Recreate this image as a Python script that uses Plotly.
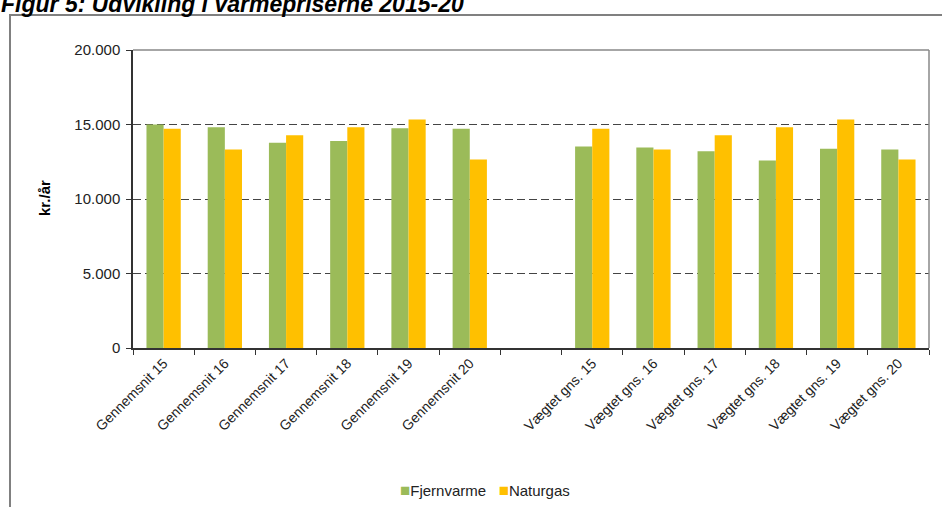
import plotly.graph_objects as go

categories = ["Gennemsnit 15", "Gennemsnit 16", "Gennemsnit 17", "Gennemsnit 18",
              "Gennemsnit 19", "Gennemsnit 20", " ",
              "Vægtet gns. 15", "Vægtet gns. 16", "Vægtet gns. 17", "Vægtet gns. 18",
              "Vægtet gns. 19", "Vægtet gns. 20"]
fjernvarme = [15000, 14820, 13770, 13900, 14750, 14710, None,
              13520, 13450, 13200, 12580, 13380, 13320]
naturgas = [14710, 13320, 14280, 14820, 15330, 12650, None,
            14710, 13320, 14280, 14820, 15330, 12650]
y_ticks = [0, 5000, 10000, 15000, 20000]
y_tick_labels = ["0", "5.000", "10.000", "15.000", "20.000"]
series_names = ["Fjernvarme", "Naturgas"]
series_colors = ["#9BBB59", "#FFC000"]

W, H = 942, 507
L, R, T, B = 133, 929, 50, 348
pw, ph = R - L, B - T

def px(x):
    return (x - L) / pw

def py(y):
    return (B - y) / ph

FONT = "Liberation Sans, Arial, sans-serif"

fig = go.Figure()
for name, vals, col in zip(series_names, [fjernvarme, naturgas], series_colors):
    fig.add_trace(go.Bar(x=categories, y=vals, name=name,
                         marker=dict(color=col, line=dict(width=0))))

fig.update_layout(
    width=W, height=H,
    margin=dict(l=L, r=W - R, t=T, b=H - B, pad=0, autoexpand=False),
    paper_bgcolor="white", plot_bgcolor="white",
    barmode="group", bargap=0.44, bargroupgap=0,
    font=dict(family=FONT, color="#222"),
    showlegend=False,
)
fig.update_xaxes(
    type="category", tickangle=-45, tickfont=dict(size=14, color="#222"),
    showline=True, linecolor="#333", linewidth=1.5,
    ticks="outside", tickson="boundaries", ticklen=5, tickcolor="#333",
    showgrid=False, fixedrange=True, automargin=False,
)
fig.update_yaxes(
    range=[0, 20000], tickvals=y_ticks, ticktext=y_tick_labels,
    tickfont=dict(size=15, color="#222"), ticklabelstandoff=3,
    showline=True, linecolor="#333", linewidth=1.5,
    ticks="outside", ticklen=5, tickcolor="#333",
    showgrid=True, gridcolor="#444", griddash="8px,4px", gridwidth=1.2,
    zeroline=False, fixedrange=True, automargin=False,
)

# plot-area top/right border
fig.add_shape(type="line", xref="paper", yref="paper", x0=0, x1=1, y0=1, y1=1,
              line=dict(color="#888", width=1.5))
fig.add_shape(type="line", xref="paper", yref="paper", x0=1, x1=1, y0=0, y1=1,
              line=dict(color="#888", width=1.5))
# outer frame
fig.add_shape(type="rect", xref="paper", yref="paper",
              x0=px(10), x1=px(960), y0=py(15), y1=py(530),
              line=dict(color="#808080", width=2), layer="below")

fig.add_annotation(text="<b><i>Figur 5: Udvikling i varmepriserne 2015-20</i></b>",
                   xref="paper", yref="paper", x=px(-1), y=py(4), xanchor="left", yanchor="middle",
                   showarrow=False, font=dict(size=23, color="#000", family=FONT))
fig.add_annotation(text="<b>kr./år</b>", textangle=-90,
                   xref="paper", yref="paper", x=px(45), y=py(198), xanchor="center", yanchor="middle",
                   showarrow=False, font=dict(size=15, color="#000", family=FONT))

# legend drawn as text with coloured squares
legend_text = "&nbsp;&nbsp;&nbsp;".join(
    f"<span style='color:{c}; font-size:17px'>■</span>{n}" for n, c in zip(series_names, series_colors)
)
fig.add_annotation(text=legend_text, xref="paper", yref="paper",
                   x=px(485), y=py(490), xanchor="center", yanchor="middle",
                   showarrow=False, font=dict(size=15, color="#222", family=FONT))

fig.write_html("out.html", post_script="document.body.style.margin='0';",
               config={"displayModeBar": False})
